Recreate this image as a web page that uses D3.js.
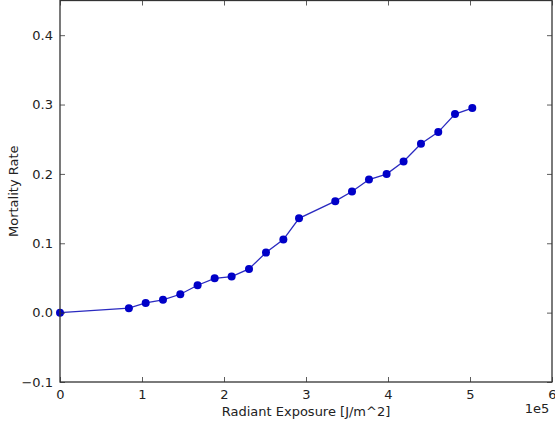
<!DOCTYPE html>
<html><head><meta charset="utf-8">
<script src="https://cdn.jsdelivr.net/npm/d3@7"></script>
<style>body{margin:0;background:#fff}svg{display:block}text{font-family:"DejaVu Sans",sans-serif;fill:#222}</style>
</head><body><svg id="c" width="555" height="425"></svg>
<script>
const exposure = [0, 0.84, 1.045, 1.256, 1.467, 1.678, 1.886, 2.093, 2.305, 2.512, 2.724, 2.915, 3.357, 3.561, 3.768, 3.983, 4.19, 4.402, 4.613, 4.817, 5.028];
const mortality = [0, 0.0065, 0.014, 0.0185, 0.0265, 0.0395, 0.0495, 0.052, 0.063, 0.0866, 0.1053, 0.136, 0.1607, 0.1746, 0.1919, 0.1997, 0.2179, 0.2435, 0.2603, 0.2863, 0.295];
const xTicks = [0, 1, 2, 3, 4, 5, 6];
const yTicks = [-0.1, 0.0, 0.1, 0.2, 0.3, 0.4];

const svg = d3.select("#c");
const L = 60, R = 552, T = 0.5, B = 382;
const x = d3.scaleLinear().domain([0, 6]).range([L, R]);
const y = d3.scaleLinear().domain([-0.1, 0.45]).range([B, T]);

const data = exposure.map((v, i) => [v, mortality[i]]);

svg.append("path").datum(data)
  .attr("fill", "none").attr("stroke", "#2a2ac0").attr("stroke-width", 1.3)
  .attr("d", d3.line().x(d => x(d[0])).y(d => y(d[1])));
svg.append("g").selectAll("circle").data(data).join("circle")
  .attr("cx", d => x(d[0])).attr("cy", d => y(d[1])).attr("r", 4)
  .attr("fill", "#0000c8");

const fmtY = d => d < 0 ? "\u2212" + Math.abs(d).toFixed(1) : d.toFixed(1);
const tick = 5;
// axes (inside ticks)
const gb = svg.append("g").attr("transform", `translate(0,${B})`)
  .call(d3.axisBottom(x).tickValues(xTicks).tickSizeInner(-tick).tickSizeOuter(0).tickPadding(6).tickFormat(d3.format("d")));
const gt = svg.append("g").attr("transform", `translate(0,${T})`)
  .call(d3.axisTop(x).tickValues(xTicks).tickSizeInner(-tick).tickSizeOuter(0).tickFormat(""));
const gl = svg.append("g").attr("transform", `translate(${L},0)`)
  .call(d3.axisLeft(y).tickValues(yTicks).tickSizeInner(-tick).tickSizeOuter(0).tickPadding(7).tickFormat(fmtY));
const gr = svg.append("g").attr("transform", `translate(${R},0)`)
  .call(d3.axisRight(y).tickValues(yTicks).tickSizeInner(-tick).tickSizeOuter(0).tickFormat(""));
[gb, gt, gl, gr].forEach(g => {
  g.select(".domain").remove();
  g.selectAll(".tick line").attr("stroke", "#333").attr("stroke-width", 0.8);
  g.selectAll(".tick text").attr("font-size", 13).style("fill", "#222");
});
gb.selectAll(".tick text").attr("dy", "0.85em");
gb.selectAll(".tick line").attr("y2", -tick);

svg.append("rect").attr("x", L).attr("y", T).attr("width", R - L).attr("height", B - T)
  .attr("fill", "none").attr("stroke", "#333").attr("stroke-width", 1.3);

svg.append("text").attr("x", 537).attr("y", 413).attr("text-anchor", "middle").attr("font-size", 13).text("1e5");
svg.append("text").attr("x", (L + R) / 2).attr("y", 416).attr("text-anchor", "middle").attr("font-size", 13).text("Radiant Exposure [J/m^2]");
svg.append("text").attr("transform", `translate(18,${(T + B) / 2}) rotate(-90)`).attr("text-anchor", "middle").attr("font-size", 13).text("Mortality Rate");
</script></body></html>
